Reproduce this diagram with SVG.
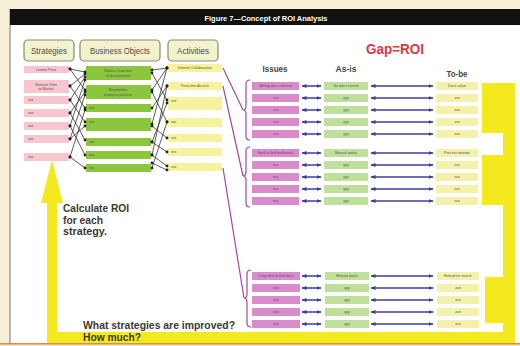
<svg xmlns="http://www.w3.org/2000/svg" width="520" height="346" viewBox="0 0 520 346">
<style>
.hdr{fill:#f2f3cc;stroke:#8a8a70;stroke-width:1.2}
.ht{font-family:"Liberation Sans",Arial,sans-serif;font-size:9px;fill:#4a4a4a;text-anchor:middle}
.s{fill:#f7c6cf}.b{fill:#8cc63e}.a{fill:#f6f29e}.i{fill:#d98bcb}.y{fill:#bfe09a}.z{fill:#f4f1ad}
.t{font-family:"Liberation Sans",Arial,sans-serif;font-size:3.6px;fill:#555;text-anchor:middle}
.tl{font-family:"Liberation Sans",Arial,sans-serif;font-size:3.6px;fill:#555}
.col{font-family:"Liberation Sans",Arial,sans-serif;font-size:9px;font-weight:bold;fill:#444;text-anchor:middle}
.big{font-family:"Liberation Sans",Arial,sans-serif;font-weight:bold;fill:#3a3a30}
.k{stroke:#333;stroke-width:0.8;fill:none;marker-start:url(#dot);marker-end:url(#dot)}
.p{stroke:#a04aa0;stroke-width:1.2;fill:none}
.ar{stroke:#3b3f9e;stroke-width:1.5;fill:none;marker-start:url(#ah);marker-end:url(#ah)}
</style>
<defs>
<marker id="dot" markerWidth="4" markerHeight="4" refX="2" refY="2" markerUnits="userSpaceOnUse"><circle cx="2" cy="2" r="1.4" fill="#222"/></marker>
<marker id="ah" markerWidth="5" markerHeight="4" refX="4.5" refY="2" orient="auto-start-reverse" markerUnits="userSpaceOnUse"><path d="M0,0 L5,2 L0,4 Z" fill="#3b3f9e"/></marker>
</defs>
<rect width="520" height="346" fill="#f7efd7"/>
<rect x="10" y="9" width="510" height="334" fill="#fff"/>
<line x1="10" y1="9" x2="10" y2="343" stroke="#777" stroke-width="1"/>
<rect x="0" y="343" width="520" height="1.6" fill="#d6904c"/>
<rect x="10" y="9" width="510" height="16" fill="#111"/>
<text x="266" y="20.5" font-family="Liberation Sans,Arial,sans-serif" font-size="8" font-weight="bold" fill="#fff" text-anchor="middle" textLength="123" lengthAdjust="spacingAndGlyphs">Figure 7—Concept of ROI Analysis</text>

<g id="yellow-loop" fill="#f4e91c">
<path d="M52,160 L63,203 L57,203 L57,332 L503,332 L503,323 L485,323 L485,277 L503,277 L503,205 L482,205 L482,155 L503,155 L503,133 L482,133 L482,83 L515,83 L515,343 L47,343 L47,203 L41,203 Z"/>
</g>

<g id="headers">
<rect class="hdr" x="24" y="40" width="50" height="21" rx="4"/><text class="ht" x="49" y="54" textLength="36" lengthAdjust="spacingAndGlyphs">Strategies</text>
<rect class="hdr" x="80" y="40" width="80" height="21" rx="4"/><text class="ht" x="120" y="54" textLength="60" lengthAdjust="spacingAndGlyphs">Business Objects</text>
<rect class="hdr" x="168" y="40" width="50" height="21" rx="4"/><text class="ht" x="193" y="54" textLength="32" lengthAdjust="spacingAndGlyphs">Activities</text>
</g>

<g id="strategies">
<rect class="s" x="24" y="66" width="45" height="7"/><text class="t" x="46" y="71">Lowest Price</text>
<rect class="s" x="24" y="80" width="45" height="13"/><text class="t" x="46" y="85.5">Shortest Time</text><text class="t" x="46" y="90">to Market</text>
<rect class="s" x="24" y="96" width="45" height="8"/><text class="tl" x="28" y="101">xxx</text>
<rect class="s" x="24" y="109" width="45" height="8"/><text class="tl" x="28" y="114">xxx</text>
<rect class="s" x="24" y="122" width="45" height="8"/><text class="tl" x="28" y="127">xxx</text>
<rect class="s" x="24" y="135" width="45" height="8"/><text class="tl" x="28" y="140">xxx</text>
<rect class="s" x="24" y="153" width="45" height="8"/><text class="tl" x="28" y="158">xxx</text>
</g>

<g id="business-objects">
<rect class="b" x="86" y="66" width="65" height="14"/><text class="t" x="118" y="72">Reduce lead time</text><text class="t" x="118" y="76.5">of development</text>
<rect class="b" x="86" y="85" width="65" height="14"/><text class="t" x="118" y="91">Standardize</text><text class="t" x="118" y="95.5">business process</text>
<rect class="b" x="86" y="104" width="65" height="8"/><text class="tl" x="89" y="109">xxx</text>
<rect class="b" x="86" y="118" width="65" height="13"/><text class="tl" x="89" y="123">xxx</text>
<rect class="b" x="86" y="138" width="65" height="8"/><text class="tl" x="89" y="143">xxx</text>
<rect class="b" x="86" y="151" width="65" height="8"/><text class="tl" x="89" y="156">xxx</text>
<rect class="b" x="86" y="164" width="65" height="8"/><text class="tl" x="89" y="169">xxx</text>
</g>

<g id="activities">
<rect class="a" x="168" y="64" width="54" height="8"/><text class="t" x="195" y="69">Internal Collaboration</text>
<rect class="a" x="168" y="82" width="54" height="8"/><text class="t" x="195" y="87">Real-time Access</text>
<rect class="a" x="168" y="97" width="54" height="13"/><text class="tl" x="171" y="102">xxx</text>
<rect class="a" x="168" y="118" width="54" height="9"/><text class="tl" x="171" y="123">xxx</text>
<rect class="a" x="168" y="134" width="54" height="8"/><text class="tl" x="171" y="139">xxx</text>
<rect class="a" x="168" y="148" width="54" height="8"/><text class="tl" x="171" y="153">xxx</text>
<rect class="a" x="168" y="163" width="54" height="8"/><text class="tl" x="171" y="168">xxx</text>
</g>

<g id="connectors">
<path class="k" d="M70,69 L85,72"/><path class="k" d="M70,69 L85,90"/>
<path class="k" d="M70,86 L85,74"/><path class="k" d="M70,86 L85,108"/>
<path class="k" d="M70,100 L85,77"/><path class="k" d="M70,100 L85,122"/>
<path class="k" d="M70,113 L85,92"/><path class="k" d="M70,113 L85,140"/>
<path class="k" d="M70,126 L85,80"/><path class="k" d="M70,126 L85,155"/>
<path class="k" d="M70,139 L85,95"/><path class="k" d="M70,139 L85,126"/>
<path class="k" d="M70,157 L85,110"/><path class="k" d="M70,157 L85,168"/>
<path class="k" d="M152,70 L167,68"/><path class="k" d="M152,73 L167,100"/>
<path class="k" d="M152,90 L167,68"/><path class="k" d="M152,92 L167,122"/>
<path class="k" d="M152,108 L167,86"/><path class="k" d="M152,124 L167,68"/>
<path class="k" d="M152,126 L167,138"/><path class="k" d="M152,142 L167,103"/>
<path class="k" d="M152,142 L167,152"/><path class="k" d="M152,155 L167,86"/>
<path class="k" d="M152,155 L167,166"/><path class="k" d="M152,168 L167,122"/>
<path class="k" d="M152,163 L167,170"/>
<path class="p" d="M223,68 L243,110"/>
<path class="p" d="M223,86 L243,176"/>
<path class="p" d="M223,168 L244,298"/>
<path class="p" d="M250,80 Q246,80 246,84 L246,106 Q246,110 243,110 Q246,110 246,114 L246,136 Q246,140 250,140"/>
<path class="p" d="M250,147 Q246,147 246,151 L246,172 Q246,176 243,176 Q246,176 246,180 L246,203 Q246,207 250,207"/>
<path class="p" d="M251,270 Q247,270 247,274 L247,294 Q247,298 244,298 Q247,298 247,302 L247,323 Q247,327 251,327"/>
<path class="ar" d="M302,86 L321,86"/><path class="ar" d="M371,86 L433,86"/>
<path class="ar" d="M302,98 L321,98"/><path class="ar" d="M371,98 L433,98"/>
<path class="ar" d="M302,110 L321,110"/><path class="ar" d="M371,110 L433,110"/>
<path class="ar" d="M302,122 L321,122"/><path class="ar" d="M371,122 L433,122"/>
<path class="ar" d="M302,134 L321,134"/><path class="ar" d="M371,134 L433,134"/>
<path class="ar" d="M302,153 L321,153"/><path class="ar" d="M371,153 L433,153"/>
<path class="ar" d="M302,165 L321,165"/><path class="ar" d="M371,165 L433,165"/>
<path class="ar" d="M302,177 L321,177"/><path class="ar" d="M371,177 L433,177"/>
<path class="ar" d="M302,189 L321,189"/><path class="ar" d="M371,189 L433,189"/>
<path class="ar" d="M302,201 L321,201"/><path class="ar" d="M371,201 L433,201"/>
<path class="ar" d="M302,276 L321,276"/><path class="ar" d="M371,276 L433,276"/>
<path class="ar" d="M302,288 L321,288"/><path class="ar" d="M371,288 L433,288"/>
<path class="ar" d="M302,300 L321,300"/><path class="ar" d="M371,300 L433,300"/>
<path class="ar" d="M302,312 L321,312"/><path class="ar" d="M371,312 L433,312"/>
<path class="ar" d="M302,324 L321,324"/><path class="ar" d="M371,324 L433,324"/>
</g>

<g id="titles">
<text x="395" y="54" font-family="Liberation Sans,Arial,sans-serif" font-size="15" font-weight="bold" fill="#d93a45" text-anchor="middle" textLength="58" lengthAdjust="spacingAndGlyphs">Gap=ROI</text>
<text class="col" x="275" y="72" textLength="25" lengthAdjust="spacingAndGlyphs">Issues</text>
<text class="col" x="346" y="72" textLength="21" lengthAdjust="spacingAndGlyphs">As-is</text>
<text class="col" x="457" y="77" textLength="21" lengthAdjust="spacingAndGlyphs">To-be</text>
</g>

<g id="group1">
<rect class="i" x="252" y="82" width="47" height="8"/><text class="t" x="275.5" y="87">Wrong docs referred</text>
<rect class="i" x="252" y="94" width="47" height="8"/><text class="t" x="275.5" y="99">xxx</text>
<rect class="i" x="252" y="106" width="47" height="8"/><text class="t" x="275.5" y="111">xxx</text>
<rect class="i" x="252" y="118" width="47" height="8"/><text class="t" x="275.5" y="123">xxx</text>
<rect class="i" x="252" y="130" width="47" height="8"/><text class="t" x="275.5" y="135">xxx</text>
<rect class="y" x="324" y="82" width="44" height="8"/><text class="t" x="346" y="87">No docs control</text>
<rect class="y" x="324" y="94" width="44" height="8"/><text class="t" x="346" y="99">yyy</text>
<rect class="y" x="324" y="106" width="44" height="8"/><text class="t" x="346" y="111">yyy</text>
<rect class="y" x="324" y="118" width="44" height="8"/><text class="t" x="346" y="123">yyy</text>
<rect class="y" x="324" y="130" width="44" height="8"/><text class="t" x="346" y="135">yyy</text>
<rect class="z" x="436" y="82" width="42" height="8"/><text class="t" x="457" y="87">Docs value</text>
<rect class="z" x="436" y="94" width="42" height="8"/><text class="t" x="457" y="99">zzz</text>
<rect class="z" x="436" y="106" width="42" height="8"/><text class="t" x="457" y="111">zzz</text>
<rect class="z" x="436" y="118" width="42" height="8"/><text class="t" x="457" y="123">zzz</text>
<rect class="z" x="436" y="130" width="42" height="8"/><text class="t" x="457" y="135">zzz</text>
</g>

<g id="group2">
<rect class="i" x="252" y="149" width="47" height="8"/><text class="t" x="275.5" y="154">Hard to find bottleneck</text>
<rect class="i" x="252" y="161" width="47" height="8"/><text class="t" x="275.5" y="166">xxx</text>
<rect class="i" x="252" y="173" width="47" height="8"/><text class="t" x="275.5" y="178">xxx</text>
<rect class="i" x="252" y="185" width="47" height="8"/><text class="t" x="275.5" y="190">xxx</text>
<rect class="i" x="252" y="197" width="47" height="8"/><text class="t" x="275.5" y="202">xxx</text>
<rect class="y" x="324" y="149" width="44" height="8"/><text class="t" x="346" y="154">Manual works</text>
<rect class="y" x="324" y="161" width="44" height="8"/><text class="t" x="346" y="166">yyy</text>
<rect class="y" x="324" y="173" width="44" height="8"/><text class="t" x="346" y="178">yyy</text>
<rect class="y" x="324" y="185" width="44" height="8"/><text class="t" x="346" y="190">yyy</text>
<rect class="y" x="324" y="197" width="44" height="8"/><text class="t" x="346" y="202">yyy</text>
<rect class="z" x="436" y="149" width="42" height="8"/><text class="t" x="457" y="154">Process monitor</text>
<rect class="z" x="436" y="161" width="42" height="8"/><text class="t" x="457" y="166">zzz</text>
<rect class="z" x="436" y="173" width="42" height="8"/><text class="t" x="457" y="178">zzz</text>
<rect class="z" x="436" y="185" width="42" height="8"/><text class="t" x="457" y="190">zzz</text>
<rect class="z" x="436" y="197" width="42" height="8"/><text class="t" x="457" y="202">zzz</text>
</g>

<g id="group3">
<rect class="i" x="252" y="272" width="48" height="8"/><text class="t" x="276" y="277">Long time to find docs</text>
<rect class="i" x="252" y="284" width="48" height="8"/><text class="t" x="276" y="289">xxx</text>
<rect class="i" x="252" y="296" width="48" height="8"/><text class="t" x="276" y="301">xxx</text>
<rect class="i" x="252" y="308" width="48" height="8"/><text class="t" x="276" y="313">xxx</text>
<rect class="i" x="252" y="320" width="48" height="8"/><text class="t" x="276" y="325">xxx</text>
<rect class="y" x="325" y="272" width="44" height="8"/><text class="t" x="347" y="277">Manual works</text>
<rect class="y" x="325" y="284" width="44" height="8"/><text class="t" x="347" y="289">yyy</text>
<rect class="y" x="325" y="296" width="44" height="8"/><text class="t" x="347" y="301">yyy</text>
<rect class="y" x="325" y="308" width="44" height="8"/><text class="t" x="347" y="313">yyy</text>
<rect class="y" x="325" y="320" width="44" height="8"/><text class="t" x="347" y="325">yyy</text>
<rect class="z" x="437" y="272" width="42" height="8"/><text class="t" x="458" y="277">Enterprise search</text>
<rect class="z" x="437" y="284" width="42" height="8"/><text class="t" x="458" y="289">zzz</text>
<rect class="z" x="437" y="296" width="42" height="8"/><text class="t" x="458" y="301">zzz</text>
<rect class="z" x="437" y="308" width="42" height="8"/><text class="t" x="458" y="313">zzz</text>
<rect class="z" x="437" y="320" width="42" height="8"/><text class="t" x="458" y="325">zzz</text>
</g>

<g id="notes">
<text class="big" font-size="11" x="63" y="212" textLength="66" lengthAdjust="spacingAndGlyphs">Calculate ROI</text>
<text class="big" font-size="11" x="63" y="224" textLength="40" lengthAdjust="spacingAndGlyphs">for each</text>
<text class="big" font-size="11" x="63" y="235" textLength="44" lengthAdjust="spacingAndGlyphs">strategy.</text>
<text class="big" font-size="11" x="83" y="329" textLength="152" lengthAdjust="spacingAndGlyphs">What strategies are improved?</text>
<text class="big" font-size="11" x="83" y="341" textLength="58" lengthAdjust="spacingAndGlyphs">How much?</text>
</g>
</svg>
